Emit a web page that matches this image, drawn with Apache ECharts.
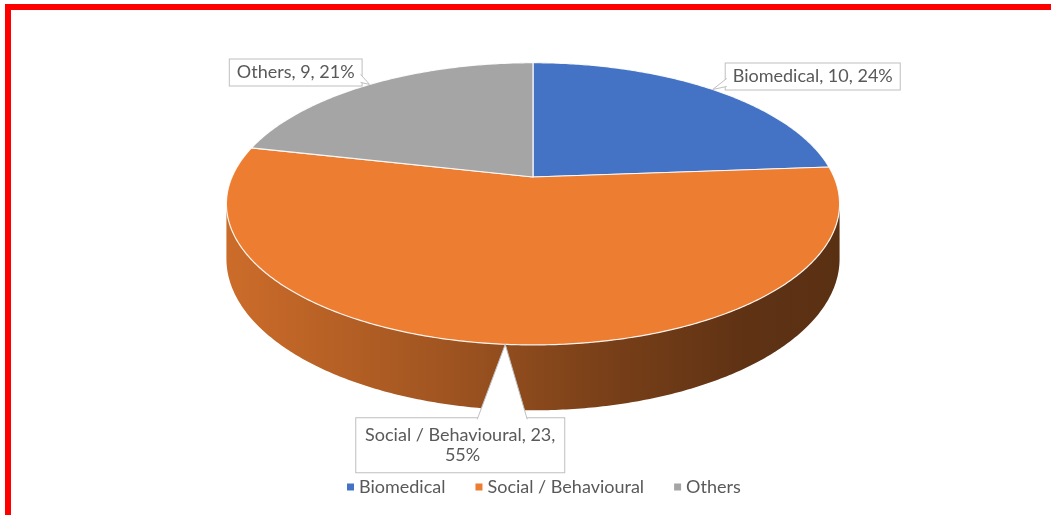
<!DOCTYPE html>
<html lang="en">
<head>
    <meta charset="UTF-8">
    <title>Research areas</title>
    <script src="https://cdn.jsdelivr.net/npm/echarts@6/dist/echarts.min.js"></script>
    <style>
        html, body { margin: 0; padding: 0; background: #fff; }
        .frame {
            position: absolute; left: 5px; top: 4px; right: 0; bottom: 0;
            border-top: 6px solid #ff0000; border-left: 6px solid #ff0000;
        }
        #main { position: absolute; left: 0; top: 0; width: 1051px; height: 515px; }
    </style>
</head>
<body>
    <div class="frame"></div>
    <div id="main"></div>

    <script type="text/javascript">
        var categories = ['Biomedical', 'Social / Behavioural', 'Others'];
        var values = [10, 23, 9];
        var colors = ['#4472C4', '#ED7D31', '#A5A5A5'];

        // perspective of the tilted disc (centre, radii, perspective factor, thickness)
        var CX = 533, CY = 177, RX = 301, RY = 136, K = 0.19, DEPTH = 53;
        var FRONT0 = Math.acos(-K), FRONT1 = 2 * Math.PI - FRONT0;

        // callout boxes, placed relative to the point on the rim at mid angle
        var labelLayout = [
            { dx: 13, dy: -26, align: 'left', padding: [3, 7], base: [[14, -11], [14, -3]] },
            { dx: -45, dy: 74, align: 'center', padding: [7, 8], width: 192, base: [[-28, 75], [22, 75]] },
            { dx: -8, dy: -25, align: 'right', padding: [3, 7], base: [[-9, -10], [-9, -2]] }
        ];

        var total = values.reduce(function (s, v) { return s + v; }, 0);
        var starts = [];
        var acc = 0;
        for (var i = 0; i < values.length; i++) {
            starts.push(acc / total * 2 * Math.PI);
            acc += values[i];
        }

        // angle measured clockwise from 12 o'clock, z = 0 top face, z = 1 bottom
        function proj(a, z) {
            var X = Math.sin(a), Y = Math.cos(a);
            var w = 1 + K * Y;
            return [CX + RX * X / w, CY - RY * Y / w + DEPTH * z / w];
        }

        function arc(a0, a1, z, reverse) {
            var pts = [];
            var n = Math.max(2, Math.ceil((a1 - a0) / 0.01));
            for (var j = 0; j <= n; j++) {
                var t = reverse ? n - j : j;
                pts.push(proj(a0 + (a1 - a0) * t / n, z));
            }
            return pts;
        }

        function darken(hex, f) {
            var n = parseInt(hex.slice(1), 16);
            var r = Math.round(((n >> 16) & 255) * f);
            var g = Math.round(((n >> 8) & 255) * f);
            var b = Math.round((n & 255) * f);
            return 'rgb(' + r + ',' + g + ',' + b + ')';
        }

        // side wall: darker towards the right
        function wallFill(c) {
            var left = proj(-FRONT0, 0)[0], right = proj(FRONT0, 0)[0];
            return {
                type: 'linear', x: left, y: 0, x2: right, y2: 0, global: true,
                colorStops: [
                    { offset: 0, color: darken(c, 0.86) },
                    { offset: 0.35, color: darken(c, 0.68) },
                    { offset: 0.6, color: darken(c, 0.52) },
                    { offset: 0.85, color: darken(c, 0.4) },
                    { offset: 1, color: darken(c, 0.38) }
                ]
            };
        }

        function renderSlice(params, api) {
            var i = params.seriesIndex;
            var a0 = starts[i];
            var a1 = a0 + values[i] / total * 2 * Math.PI;
            var children = [];

            // visible part of the side wall
            var f0 = Math.max(a0, FRONT0), f1 = Math.min(a1, FRONT1);
            if (f1 > f0) {
                var wall = arc(f0, f1, 0, false).concat(arc(f0, f1, 1, true));
                children.push({
                    type: 'polygon', z2: 1,
                    shape: { points: wall },
                    style: { fill: wallFill(colors[i]) }
                });
            }

            // top face
            var top = [[CX, CY]].concat(arc(a0, a1, 0, false));
            children.push({
                type: 'polygon', z2: 2,
                shape: { points: top },
                style: { fill: colors[i], stroke: 'rgba(255,255,255,0.9)', lineWidth: 1.2, lineJoin: 'round' }
            });

            // callout
            var L = labelLayout[i];
            var tip = proj((a0 + a1) / 2, 0);
            var b0 = [tip[0] + L.base[0][0], tip[1] + L.base[0][1]];
            var b1 = [tip[0] + L.base[1][0], tip[1] + L.base[1][1]];
            var pct = Math.round(values[i] / total * 100);
            var textStyle = {
                text: categories[i] + ', ' + values[i] + ', ' + pct + '%',
                x: tip[0] + L.dx, y: tip[1] + L.dy,
                align: L.align, verticalAlign: 'top',
                fill: '#595959', fontSize: 18, fontFamily: 'Lato',
                lineHeight: 20, padding: L.padding,
                backgroundColor: '#fff', borderColor: '#bfbfbf', borderWidth: 1
            };
            if (L.width) {
                textStyle.width = L.width;
                textStyle.overflow = 'break';
            }
            children.push({ type: 'text', z2: 4, style: textStyle });
            children.push({
                type: 'polygon', z2: 5,
                shape: { points: [b0, tip, b1] },
                style: { fill: '#fff' }
            });
            children.push({
                type: 'polyline', z2: 6,
                shape: { points: [b0, tip, b1] },
                style: { fill: null, stroke: '#bfbfbf', lineWidth: 1 }
            });

            return { type: 'group', children: children };
        }

        var myChart = echarts.init(document.getElementById('main'));
        var option = {
            animation: false,
            legend: {
                bottom: 14,
                left: 342,
                icon: 'rect',
                itemWidth: 7,
                itemHeight: 7,
                itemGap: 30,
                textStyle: { color: '#595959', fontSize: 18, fontFamily: 'Lato' },
                data: categories
            },
            series: categories.map(function (name, i) {
                return {
                    type: 'custom',
                    name: name,
                    coordinateSystem: 'none',
                    renderItem: renderSlice,
                    itemStyle: { color: colors[i] },
                    silent: true,
                    data: [values[i]]
                };
            })
        };
        myChart.setOption(option);
        window.addEventListener('resize', function () {
            myChart.resize();
        });
    </script>
</body>
</html>
